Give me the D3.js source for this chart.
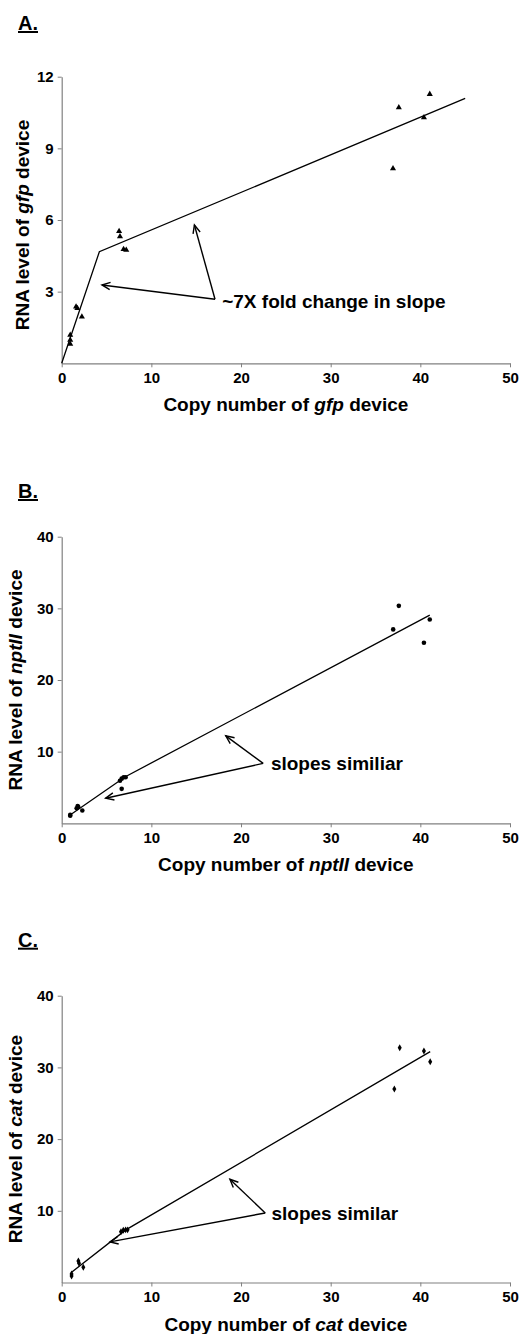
<!DOCTYPE html>
<html><head><meta charset="utf-8">
<script src="https://cdn.jsdelivr.net/npm/d3@7"></script>
<style>
body{margin:0;background:#fff}
svg{display:block}
text{font-family:"Liberation Sans",Arial,Helvetica,sans-serif;font-weight:bold;fill:#000}
</style>
</head><body>
<svg id="chart" width="519" height="1334"></svg>
<script>
// ---------- data ----------
const xTicks = [0, 10, 20, 30, 40, 50];

// Panel A (gfp)
const aYTicks = [3, 6, 9, 12];
const aX = [0.95, 0.95, 0.95, 1.6, 1.75, 2.25, 6.4, 6.5, 6.9, 7.2, 36.95, 37.6, 40.4, 41.05];
const aY = [1.18, 0.98, 0.81, 2.37, 2.30, 1.95, 5.53, 5.31, 4.78, 4.74, 8.16, 10.71, 10.29, 11.27];
const aFitX = [0, 4.2, 45];
const aFitY = [0, 4.67, 11.09];
const aNote = "~7X fold change in slope";
const aNotePos = [17.9, 2.3];
const aArrowFrom = [17.1, 2.68];
const aArrowTo = [[4.49, 3.28], [14.8, 5.79]];

// Panel B (nptII)
const bYTicks = [10, 20, 30, 40];
const bX = [0.95, 0.95, 1.67, 1.78, 1.85, 2.3, 6.5, 6.69, 6.91, 7.13, 6.69, 36.97, 37.6, 40.4, 41.05];
const bY = [1.17, 1.05, 2.1, 2.4, 2.28, 1.79, 5.93, 6.23, 6.42, 6.42, 4.81, 27.06, 30.35, 25.19, 28.45];
const bFitX = [1.1, 7.1, 41.05];
const bFitY = [1.3, 6.5, 29.05];
const bNote = "slopes similiar";
const bNotePos = [23.33, 7.43];
const bArrowFrom = [22.47, 8.37];
const bArrowTo = [[18.3, 12.2], [4.9, 3.5]];

// Panel C (cat)
const cYTicks = [10, 20, 30, 40];
const cX = [1.1, 1.1, 1.86, 1.93, 2.41, 6.61, 6.87, 7.13, 7.35, 37.1, 37.7, 40.4, 41.1];
const cY = [1.2, 0.9, 2.99, 2.68, 2.12, 7.09, 7.28, 7.34, 7.34, 27.0, 32.75, 32.3, 30.8];
const cFitX = [1.04, 7.15, 41.1];
const cFitY = [1.37, 7.34, 32.2];
const cNote = "slopes similar";
const cNotePos = [23.4, 8.74];
const cArrowFrom = [22.7, 9.7];
const cArrowTo = [[18.76, 14.4], [5.38, 5.66]];

// ---------- layout ----------
const svg = d3.select("#chart");
const left = 61.7, right = 510;

const panels = [
  {tag: "A.", tagY: 30, top: 76.7, bottom: 363.3, yMax: 12, yTicks: aYTicks,
   xs: aX, ys: aY, fx: aFitX, fy: aFitY, note: aNote, notePos: aNotePos,
   from: aArrowFrom, to: aArrowTo, gene: "gfp", marker: "tri",
   yLabX: 29, yLabShift: 5},
  {tag: "B.", tagY: 498, top: 536.7, bottom: 823.3, yMax: 40, yTicks: bYTicks,
   xs: bX, ys: bY, fx: bFitX, fy: bFitY, note: bNote, notePos: bNotePos,
   from: bArrowFrom, to: bArrowTo, gene: "nptII", marker: "dot",
   yLabX: 22, yLabShift: 0},
  {tag: "C.", tagY: 946.7, top: 995.7, bottom: 1282.5, yMax: 40, yTicks: cYTicks,
   xs: cX, ys: cY, fx: cFitX, fy: cFitY, note: cNote, notePos: cNotePos,
   from: cArrowFrom, to: cArrowTo, gene: "cat", marker: "dia",
   yLabX: 22, yLabShift: 0}
];

const axisColor = "#808080";

panels.forEach(p => {
  const x = d3.scaleLinear().domain([0, 50]).range([left, right]);
  const y = d3.scaleLinear().domain([0, p.yMax]).range([p.bottom, p.top]);
  const g = svg.append("g");

  // panel tag
  g.append("text").attr("x", 18).attr("y", p.tagY)
    .style("font-size", "20px").style("text-decoration", "underline")
    .text(p.tag);

  // axes
  const xa = g.append("g").attr("transform", `translate(0,${p.bottom})`)
    .call(d3.axisBottom(x).tickValues(xTicks).tickSize(4).tickSizeOuter(0).tickPadding(5));
  const ya = g.append("g").attr("transform", `translate(${left},0)`)
    .call(d3.axisLeft(y).tickValues(p.yTicks).tickSize(4).tickSizeOuter(0).tickPadding(4));
  [xa, ya].forEach(a => {
    a.select(".domain").attr("stroke", axisColor).attr("stroke-width", 1.2);
    a.selectAll(".tick line").attr("stroke", axisColor);
    a.selectAll(".tick text").style("font-size", "15px")
      .style("font-family", '"Liberation Sans",Arial,sans-serif')
      .style("font-weight", "bold").attr("fill", "#000");
  });

  // axis titles
  const xt = g.append("text").attr("x", (left + right) / 2).attr("y", p.bottom + 48)
    .attr("text-anchor", "middle").style("font-size", "19px");
  xt.append("tspan").text("Copy number of ");
  xt.append("tspan").style("font-style", "italic").text(p.gene);
  xt.append("tspan").text(" device");

  const yt = g.append("text")
    .attr("transform", `translate(${p.yLabX},${(p.top + p.bottom) / 2 + p.yLabShift}) rotate(-90)`)
    .attr("text-anchor", "middle").style("font-size", "19px");
  yt.append("tspan").text("RNA level of ");
  yt.append("tspan").style("font-style", "italic").text(p.gene);
  yt.append("tspan").text(" device");

  // fitted line
  const line = d3.line().x(d => x(d[0])).y(d => y(d[1]));
  g.append("path").datum(d3.zip(p.fx, p.fy)).attr("d", line)
    .attr("fill", "none").attr("stroke", "#000").attr("stroke-width", 1.3);

  // markers
  const pts = d3.zip(p.xs, p.ys);
  if (p.marker === "dot") {
    g.selectAll("circle.pt").data(pts).join("circle").attr("class", "pt")
      .attr("cx", d => x(d[0])).attr("cy", d => y(d[1])).attr("r", 2.3).attr("fill", "#000");
  } else {
    const sym = d3.symbol().type(p.marker === "tri" ? d3.symbolTriangle : d3.symbolDiamond)
      .size(p.marker === "tri" ? 16 : 14);
    g.selectAll("path.pt").data(pts).join("path").attr("class", "pt")
      .attr("transform", d => `translate(${x(d[0])},${y(d[1])})`)
      .attr("d", sym).attr("fill", "#000");
  }

  // annotation arrows
  const fx0 = x(p.from[0]), fy0 = y(p.from[1]);
  p.to.forEach(t => {
    const tx = x(t[0]), ty = y(t[1]);
    const ang = Math.atan2(fy0 - ty, fx0 - tx);
    const hl = 9, ha = 0.42;
    g.append("line").attr("x1", fx0).attr("y1", fy0).attr("x2", tx).attr("y2", ty)
      .attr("stroke", "#000").attr("stroke-width", 1.4);
    g.append("path")
      .attr("d", `M${tx + hl * Math.cos(ang + ha)},${ty + hl * Math.sin(ang + ha)}L${tx},${ty}L${tx + hl * Math.cos(ang - ha)},${ty + hl * Math.sin(ang - ha)}`)
      .attr("fill", "none").attr("stroke", "#000").attr("stroke-width", 1.4);
  });
  g.append("text").attr("x", x(p.notePos[0])).attr("y", y(p.notePos[1]))
    .style("font-size", "19px").text(p.note);
});
</script>
</body></html>
